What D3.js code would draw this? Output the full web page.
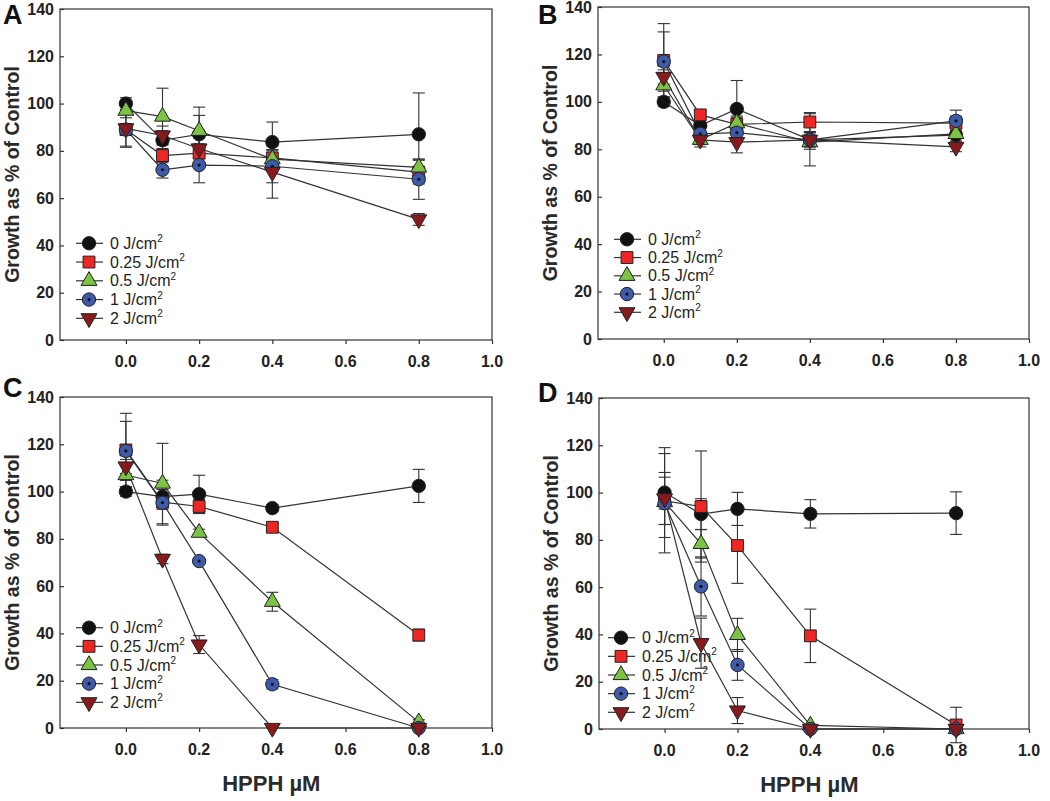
<!DOCTYPE html>
<html>
<head>
<meta charset="utf-8">
<script src="https://cdn.jsdelivr.net/npm/d3@7"></script>
<style>
  body { margin: 0; background: #fff; }
  svg { display: block; }
  .tick-lbl { font-family: "Liberation Sans Narrow", "Arial Narrow", "Liberation Sans", sans-serif; font-weight: bold; font-size: 16px; fill: #222; }
  .legend-lbl { font-family: "Liberation Sans Narrow", "Arial Narrow", "Liberation Sans", sans-serif; font-size: 16px; fill: #222; }
  .y-title { font-family: "Liberation Sans", Arial, sans-serif; font-weight: bold; font-size: 19.5px; fill: #2a2a2a; }
  .x-title { font-family: "Liberation Sans Narrow", "Arial Narrow", "Liberation Sans", sans-serif; font-weight: bold; font-size: 22px; fill: #2a2a2a; }
  .panel-lbl { font-family: "Liberation Sans", Arial, sans-serif; font-weight: bold; font-size: 27px; fill: #111; }
</style>
</head>
<body>
<div class="chart"></div>
<script>
// HPPH concentrations (x) and light doses (series)
var doses = [0, 0.1, 0.2, 0.4, 0.8];
var xTicks = [0, 0.2, 0.4, 0.6, 0.8, 1.0];
var yTicks = [0, 20, 40, 60, 80, 100, 120, 140];
var lightDoses = ["0", "0.25", "0.5", "1", "2"];

// growth as % of control, one row per light dose
var meanA = [
	[100, 84.5, 87, 83.7, 87],
	[89, 78, 79, 77, 71],
	[97, 94.5, 88.5, 76.5, 73],
	[89, 72, 74, 73.5, 68],
	[89.5, 86.5, 81, 71, 51]
];
var errA = [
	[2.5, 4, 8, 8.5, 17.5],
	[2, 3, 4, 3, 5],
	[3, 12, 10, 4, 3.5],
	[7, 3.5, 7.5, 7, 8.5],
	[8, 4, 6, 11, 2.5]
];

var meanB = [
	[100, 90, 97, 84, 86],
	[117.5, 94.5, 90.5, 91.5, 91],
	[107, 84, 91, 83, 86.5],
	[117, 86.5, 87, 84, 92],
	[110.5, 84, 83, 84, 81]
];
var errB = [
	[2, 4, 12, 11, 3],
	[15.5, 2, 3, 4, 3],
	[5, 2, 3, 3, 3],
	[12.5, 3, 3, 3, 4.5],
	[3, 3, 4.5, 3, 2]
];

var meanC = [
	[100, 97.9, 98.9, 93, 102.4],
	[117.6, 95.5, 93.7, 84.9, 39.3],
	[107, 103.4, 82.6, 53.4, 2.5],
	[117.2, 95.3, 70.6, 18.5, 0],
	[110.6, 71.5, 35.3, 0, 0]
];
var errC = [
	[2, 3, 8, 1.5, 7],
	[15.5, 3, 3, 1.5, 2.5],
	[5, 17, 1.5, 4, 1],
	[12.5, 9.5, 1, 2, 0.5],
	[3, 2, 3.8, 0, 0]
];

var meanD = [
	[100, 90.9, 93.1, 91, 91.3],
	[96.5, 94.1, 77.6, 39.4, 1.7],
	[96, 78.3, 39.8, 1.5, 0],
	[95.5, 60.3, 27.1, 0, 0],
	[97.5, 36.3, 7.8, 0, 0]
];
var errD = [
	[19, 6.5, 7, 6, 9],
	[10, 23.5, 16, 11.3, 7.5],
	[3, 6, 7, 0.5, 0],
	[21, 12.5, 6.5, 0, 0],
	[11, 10.6, 5.5, 0, 0]
];

/*---------------------------STYLES--------------------------*/

var fills = ['#111111', '#ee2624', '#7cc245', '#3d5ba9', '#871a1c'];
var shapes = [d3.symbolCircle, d3.symbolSquare, d3.symbolTriangle, d3.symbolCircle, d3.symbolTriangle];
var sizes = [140, 140, 110, 140, 110];
var rotations = [0, 0, 0, 0, 180];

var panels = [
	{ letter: 'A', mean: meanA, err: errA, left: 60, right: 492, top: 9, bottom: 340, lx: 89, ly: 243.3, step: 18.75, lettX: 3, lettY: 24, xTitle: false },
	{ letter: 'B', mean: meanB, err: errB, left: 598, right: 1029, top: 7, bottom: 339, lx: 627, ly: 239.3, step: 18.25, lettX: 538, lettY: 24, xTitle: false },
	{ letter: 'C', mean: meanC, err: errC, left: 60, right: 492, top: 397, bottom: 728, lx: 89, ly: 627.7, step: 18.65, lettX: 3, lettY: 397, xTitle: true },
	{ letter: 'D', mean: meanD, err: errD, left: 599, right: 1029, top: 398, bottom: 729, lx: 621, ly: 637.7, step: 18.65, lettX: 538, lettY: 402, xTitle: true }
];

var svg = d3.select('.chart').append('svg')
	.attr('width', 1050)
	.attr('height', 801);

var drawMarker = function(g, i, x, y){
	var m = g.append('g').attr('transform', 'translate(' + x + ',' + y + ')');
	m.append('path')
		.attr('d', d3.symbol().type(shapes[i]).size(sizes[i]))
		.attr('transform', 'rotate(' + rotations[i] + ')')
		.attr('fill', fills[i])
		.attr('stroke', '#222')
		.attr('stroke-width', 1);
	if (i === 3) {
		m.append('circle').attr('r', 1.6).attr('fill', '#111');
	}
};

panels.forEach(function(p){
	var x = d3.scaleLinear().domain([-0.18, 1.0]).range([p.left, p.right]);
	var y = d3.scaleLinear().domain([0, 140]).range([p.bottom, p.top]);
	var g = svg.append('g');

	// frame
	g.append('rect')
		.attr('x', p.left).attr('y', p.top)
		.attr('width', p.right - p.left).attr('height', p.bottom - p.top)
		.attr('fill', 'none').attr('stroke', '#333').attr('stroke-width', 1.2);

	// y axis: ticks inward
	var yAxis = g.append('g')
		.attr('transform', 'translate(' + p.left + ',0)')
		.call(d3.axisRight(y).tickValues(yTicks).tickSize(4).tickFormat(''));
	yAxis.select('.domain').remove();
	yAxis.selectAll('line').attr('stroke', '#333').attr('stroke-width', 1.2);

	g.selectAll('.ylbl').data(yTicks).enter()
		.append('text')
		.attr('class', 'tick-lbl')
		.attr('x', p.left - 6)
		.attr('y', function(d){ return y(d) + 5.5; })
		.attr('text-anchor', 'end')
		.text(function(d){ return d; });

	// x axis: ticks outward
	var xAxis = g.append('g')
		.attr('transform', 'translate(0,' + p.bottom + ')')
		.call(d3.axisBottom(x).tickValues(xTicks).tickSize(4).tickFormat(''));
	xAxis.select('.domain').remove();
	xAxis.selectAll('line').attr('stroke', '#333').attr('stroke-width', 1.2);

	g.selectAll('.xlbl').data(xTicks).enter()
		.append('text')
		.attr('class', 'tick-lbl')
		.attr('x', function(d){ return x(d); })
		.attr('y', p.bottom + 27)
		.attr('text-anchor', 'middle')
		.text(function(d){ return d3.format('.1f')(d); });

	// titles
	g.append('text')
		.attr('class', 'y-title')
		.attr('transform', 'translate(' + (p.left - 41) + ',' + ((p.top + p.bottom) / 2) + ') rotate(-90)')
		.attr('text-anchor', 'middle')
		.text('Growth as % of Control');

	if (p.xTitle) {
		g.append('text')
			.attr('class', 'x-title')
			.attr('x', x(0.4) - 1)
			.attr('y', p.bottom + 63)
			.attr('text-anchor', 'middle')
			.text('HPPH \u00B5M');
	}

	g.append('text')
		.attr('class', 'panel-lbl')
		.attr('x', p.lettX)
		.attr('y', p.lettY)
		.text(p.letter);

	var line = d3.line()
		.x(function(d, j){ return x(doses[j]); })
		.y(function(d){ return y(d); });

	// error bars
	p.mean.forEach(function(row, i){
		row.forEach(function(v, j){
			var e = p.err[i][j];
			if (e <= 0) return;
			var cx = x(doses[j]);
			var eb = g.append('g').attr('stroke', '#333').attr('stroke-width', 1.1);
			eb.append('line').attr('x1', cx).attr('x2', cx).attr('y1', y(v - e)).attr('y2', y(v + e));
			eb.append('line').attr('x1', cx - 6).attr('x2', cx + 6).attr('y1', y(v - e)).attr('y2', y(v - e));
			eb.append('line').attr('x1', cx - 6).attr('x2', cx + 6).attr('y1', y(v + e)).attr('y2', y(v + e));
		});
	});

	// connecting lines
	p.mean.forEach(function(row){
		g.append('path')
			.attr('d', line(row))
			.attr('fill', 'none')
			.attr('stroke', '#333')
			.attr('stroke-width', 1.2);
	});

	// symbols
	p.mean.forEach(function(row, i){
		row.forEach(function(v, j){
			drawMarker(g, i, x(doses[j]), y(v));
		});
	});

	/*---------------------------LEGEND--------------------------*/
	lightDoses.forEach(function(d, i){
		var ly = p.ly + i * p.step;
		g.append('line')
			.attr('x1', p.lx - 13).attr('x2', p.lx + 14)
			.attr('y1', ly).attr('y2', ly)
			.attr('stroke', '#333').attr('stroke-width', 1.2);
		drawMarker(g, i, p.lx, ly);
		var t = g.append('text')
			.attr('class', 'legend-lbl')
			.attr('x', p.lx + 21)
			.attr('y', ly + 5.5);
		t.append('tspan').text(d + ' J/cm');
		t.append('tspan').attr('dy', -6.5).attr('font-size', '10px').text('2');
	});
});
</script>
</body>
</html>
